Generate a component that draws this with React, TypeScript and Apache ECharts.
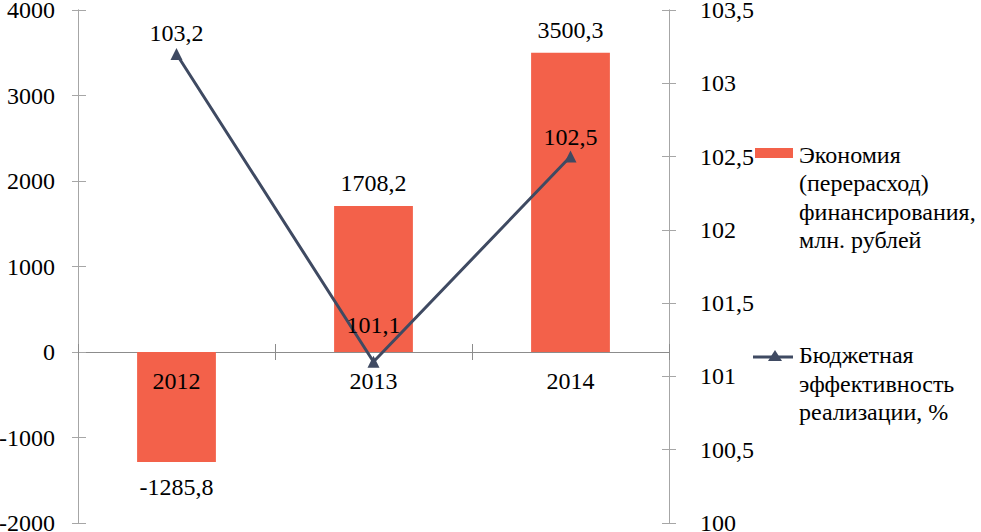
import React, { useEffect, useRef } from "react";
import * as echarts from "echarts";

const categories = ["2012", "2013", "2014"];
const savingsValues = [-1285.8, 1708.2, 3500.3];
const efficiencyValues = [103.2, 101.1, 102.5];
const efficiencyLabelDistances = [3, 19, 2];
const savingsName = "Экономия\n(перерасход)\nфинансирования,\nмлн. рублей";
const efficiencyName = "Бюджетная\nэффективность\nреализации, %";

const FONT = "'Times New Roman', 'Liberation Serif', Tinos, 'DejaVu Serif', serif";
const FONT_SIZE = 24;
const BAR_COLOR = "#F3614A";
const LINE_COLOR = "#3F4A62";
const AXIS_COLOR = "#A6A6A6";
const XAXIS_COLOR = "#8C8C8C";

const GRID_TOP = 10;
const GRID_BOTTOM = 9;
const GRID_H = 532 - GRID_TOP - GRID_BOTTOM;
const LEFT_MIN = -2000;
const LEFT_MAX = 4000;

const fmt = (v: number) => v.toFixed(1).replace(".", ",");
const fmtAxis = (v: number) => String(v).replace(".", ",");

export default function App() {
  const ref = useRef<HTMLDivElement>(null);
  useEffect(() => {
    if (!ref.current) return;
    const chart = echarts.init(ref.current, null, { renderer: "svg" });
    const textStyle = { fontFamily: FONT, fontSize: FONT_SIZE, color: "#000" };
    const zeroOffset = -(GRID_H * (0 - LEFT_MIN)) / (LEFT_MAX - LEFT_MIN);
    const yLeftBase = {
      type: "value" as const,
      min: LEFT_MIN,
      max: LEFT_MAX,
      interval: 1000,
      position: "left" as const,
      splitLine: { show: false },
      axisLine: { show: true, lineStyle: { color: AXIS_COLOR, width: 1 } },
    };
    const yRightBase = {
      type: "value" as const,
      min: 100,
      max: 103.5,
      interval: 0.5,
      position: "right" as const,
      splitLine: { show: false },
      axisLine: { show: true, lineStyle: { color: AXIS_COLOR, width: 1 } },
    };
    const xBase = {
      type: "category" as const,
      data: categories,
      position: "bottom" as const,
    };
    chart.setOption({
      animation: false,
      backgroundColor: "#fff",
      textStyle: { fontFamily: FONT },
      grid: { left: 78, right: 312, top: GRID_TOP, bottom: GRID_BOTTOM, containLabel: false, outerBoundsMode: "none" },
      xAxis: [
        {
          ...xBase,
          axisLine: { show: true, onZero: true, onZeroAxisIndex: 0, lineStyle: { color: XAXIS_COLOR, width: 1 } },
          axisTick: { show: true, length: 8, lineStyle: { color: XAXIS_COLOR } },
          axisLabel: { show: false },
        },
        {
          ...xBase,
          axisLine: { show: true, onZero: true, onZeroAxisIndex: 0, lineStyle: { color: XAXIS_COLOR, width: 1 } },
          axisTick: { show: true, inside: true, length: 8, lineStyle: { color: XAXIS_COLOR } },
          axisLabel: { show: false },
        },
        {
          ...xBase,
          offset: zeroOffset,
          z: 20,
          axisLine: { show: false, onZero: false },
          axisTick: { show: false },
          axisLabel: { ...textStyle, margin: 17 },
        },
      ],
      yAxis: [
        {
          ...yLeftBase,
          axisTick: { show: true, length: 6, lineStyle: { color: AXIS_COLOR } },
          axisLabel: { ...textStyle, margin: 23, formatter: (v: number) => String(v) },
        },
        {
          ...yRightBase,
          axisTick: { show: true, length: 7, lineStyle: { color: AXIS_COLOR } },
          axisLabel: { ...textStyle, margin: 31, formatter: (v: number) => fmtAxis(v) },
        },
        {
          ...yLeftBase,
          axisTick: { show: true, inside: true, length: 8, lineStyle: { color: AXIS_COLOR } },
          axisLabel: { show: false },
        },
        {
          ...yRightBase,
          axisTick: { show: true, inside: true, length: 7, lineStyle: { color: AXIS_COLOR } },
          axisLabel: { show: false },
        },
      ],
      series: [
        {
          name: savingsName,
          type: "bar",
          xAxisIndex: 0,
          yAxisIndex: 0,
          barWidth: "40%",
          itemStyle: { color: BAR_COLOR },
          data: savingsValues.map((v) => ({
            value: v,
            label: { position: v < 0 ? "bottom" : "top", distance: v < 0 ? 13 : 11 },
          })),
          label: {
            show: true,
            ...textStyle,
            formatter: (p: any) => fmt(p.value),
          },
        },
        {
          name: efficiencyName,
          type: "line",
          xAxisIndex: 0,
          yAxisIndex: 1,
          symbol: "triangle",
          symbolSize: 12,
          lineStyle: { color: LINE_COLOR, width: 3 },
          itemStyle: { color: LINE_COLOR },
          data: efficiencyValues.map((v, i) => ({
            value: v,
            label: { distance: efficiencyLabelDistances[i] },
          })),
          label: {
            show: true,
            position: "top",
            ...textStyle,
            formatter: (p: any) => fmt(p.value),
          },
          z: 5,
        },
      ],
      graphic: [
        { type: "rect", shape: { x: 755, y: 148, width: 38, height: 10 }, style: { fill: BAR_COLOR } },
        {
          type: "text",
          x: 799,
          y: 141,
          style: { text: savingsName, fontFamily: FONT, fontSize: FONT_SIZE, lineHeight: 28.3, fill: "#000", verticalAlign: "top" },
        },
        { type: "line", shape: { x1: 753, y1: 357, x2: 793, y2: 357 }, style: { stroke: LINE_COLOR, lineWidth: 3 } },
        {
          type: "polygon",
          shape: { points: [[775, 350], [782, 361], [768, 361]] },
          style: { fill: LINE_COLOR },
        },
        {
          type: "text",
          x: 799,
          y: 341,
          style: { text: efficiencyName, fontFamily: FONT, fontSize: FONT_SIZE, lineHeight: 28.5, fill: "#000", verticalAlign: "top" },
        },
      ],
    });
    return () => chart.dispose();
  }, []);
  return <div ref={ref} style={{ width: 981, height: 532, position: "absolute", left: 0, top: 0 }} />;
}
